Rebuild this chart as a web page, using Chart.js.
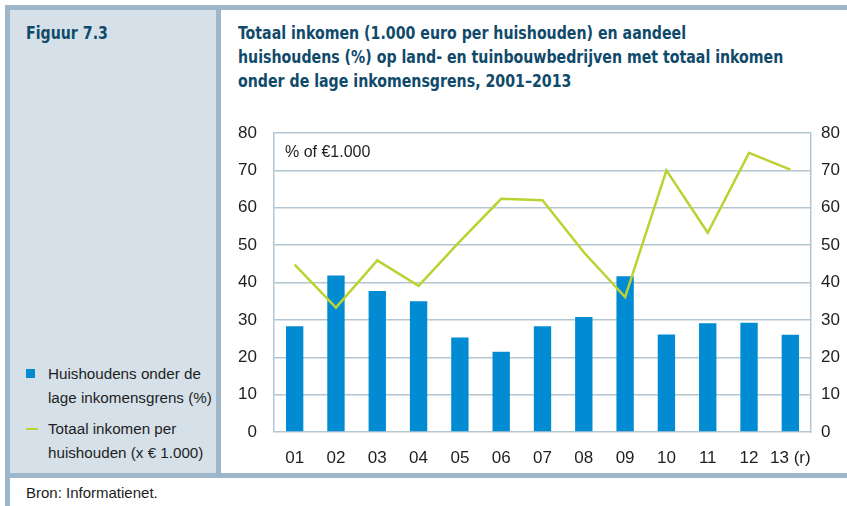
<!DOCTYPE html>
<html>
<head>
<meta charset="utf-8">
<title>Figuur 7.3</title>
<style>
    body {
        margin: 0;
        width: 847px;
        height: 506px;
        position: relative;
        overflow: hidden;
        background: #ffffff;
        font-family: "Liberation Sans", Arial, sans-serif;
        color: #1e1e1e;
    }
    .band { position: absolute; background: #9db6ca; }
    .left-panel {
        position: absolute;
        left: 10px; top: 10px;
        width: 206px; height: 463px;
        background: #d6e0e9;
    }
    .fig, .title {
        position: absolute;
        top: 21px;
        font-family: "DejaVu Sans Condensed", "Liberation Sans", sans-serif;
        font-weight: bold;
        font-size: 18px;
        line-height: 24px;
        color: #0f4a6b;
        white-space: nowrap;
        transform: scaleX(0.875);
        transform-origin: left top;
    }
    .fig { left: 26px; }
    .title { left: 238px; }
    .legend {
        position: absolute;
        left: 26px; top: 362px;
        font-size: 15.2px;
        line-height: 24px;
    }
    .legend .item { position: relative; padding-left: 22px; margin-bottom: 7px; }
    .legend .sw { position: absolute; left: 0; }
    .chart-box {
        position: absolute;
        left: 221px; top: 10px;
        width: 626px; height: 463px;
    }
    .note {
        position: absolute;
        left: 285px; top: 143px;
        font-size: 16px;
    }
    .source {
        position: absolute;
        left: 26px; top: 484px;
        font-size: 15px;
    }
</style>
<script src="https://cdn.jsdelivr.net/npm/chart.js@4.4.1/dist/chart.umd.min.js"></script>
</head>
<body>
    <div class="band" style="left:5px;top:5px;width:842px;height:5px;"></div>
    <div class="band" style="left:5px;top:5px;width:5px;height:501px;"></div>
    <div class="left-panel"></div>
    <div class="band" style="left:216px;top:10px;width:5px;height:463px;"></div>
    <div class="band" style="left:5px;top:473px;width:842px;height:5px;"></div>

    <div class="fig">Figuur 7.3</div>
    <div class="title">Totaal inkomen (1.000 euro per huishouden) en aandeel<br>huishoudens (%) op land- en tuinbouwbedrijven met totaal inkomen<br>onder de lage inkomensgrens, 2001–2013</div>
    <div class="legend" id="legend"></div>

    <div class="chart-box"><canvas id="chart"></canvas></div>
    <div class="note">% of €1.000</div>
    <div class="source">Bron: Informatienet.</div>

<script>
    const years = ['01', '02', '03', '04', '05', '06', '07', '08', '09', '10', '11', '12', '13 (r)'];
    const shareLowIncome = [28.3, 41.9, 37.7, 35.0, 25.3, 21.5, 28.3, 30.8, 41.7, 26.1, 29.1, 29.2, 26.0];
    const totalIncome = [44.8, 33.3, 45.9, 39.1, 51.0, 62.4, 62.0, 48.1, 36.1, 70.0, 53.3, 74.7, 70.2];
    const axisTicks = [0, 10, 20, 30, 40, 50, 60, 70, 80];
    const seriesNames = ['Huishoudens onder de<br>lage inkomensgrens (%)', 'Totaal inkomen per<br>huishouden (x € 1.000)'];

    const blue = '#008bd2';
    const green = '#bdd132';
    const grid = '#b3c6d4';

    // legend in the left panel
    const legend = document.getElementById('legend');
    legend.innerHTML =
        '<div class="item"><span class="sw" style="top:7px;width:9px;height:9px;background:' + blue + '"></span>' + seriesNames[0] + '</div>' +
        '<div class="item"><span class="sw" style="top:11px;width:12px;height:2px;background:' + green + '"></span>' + seriesNames[1] + '</div>';

    const tickFont = { family: '"Liberation Sans", Arial, sans-serif', size: 17 };

    new Chart(document.getElementById('chart'), {
        data: {
            labels: years,
            datasets: [{
                type: 'line',
                label: 'Totaal inkomen',
                data: totalIncome,
                borderColor: green,
                borderWidth: 2.5,
                pointRadius: 0,
                tension: 0,
                yAxisID: 'y',
                order: 0
            }, {
                type: 'bar',
                label: 'Huishoudens',
                data: shareLowIncome,
                backgroundColor: blue,
                barPercentage: 0.42,
                categoryPercentage: 1,
                yAxisID: 'y',
                order: 1
            }]
        },
        options: {
            responsive: true,
            maintainAspectRatio: false,
            animation: false,
            layout: { padding: { top: 123, left: 0, right: 0, bottom: 0 } },
            plugins: { legend: { display: false }, tooltip: { enabled: false } },
            scales: {
                x: {
                    grid: { display: false },
                    border: { display: false },
                    ticks: { color: '#1e1e1e', font: tickFont, padding: 8, maxRotation: 0, autoSkip: false },
                    afterFit: s => { s.height = 41; }
                },
                y: {
                    position: 'left',
                    min: 0, max: 80,
                    afterBuildTicks: s => { s.ticks = axisTicks.map(v => ({ value: v })); },
                    grid: { color: grid, lineWidth: 1.5, drawTicks: false },
                    border: { display: true, color: grid, width: 1.5 },
                    ticks: { color: '#1e1e1e', font: tickFont, padding: 17 },
                    afterFit: s => { s.width = 53; }
                },
                y2: {
                    position: 'right',
                    min: 0, max: 80,
                    afterBuildTicks: s => { s.ticks = axisTicks.map(v => ({ value: v })); },
                    grid: { display: false, drawTicks: false },
                    border: { display: true, color: grid, width: 1.5 },
                    ticks: { color: '#1e1e1e', font: tickFont, padding: 10 },
                    afterFit: s => { s.width = 36; }
                }
            }
        }
    });
</script>
</body>
</html>
